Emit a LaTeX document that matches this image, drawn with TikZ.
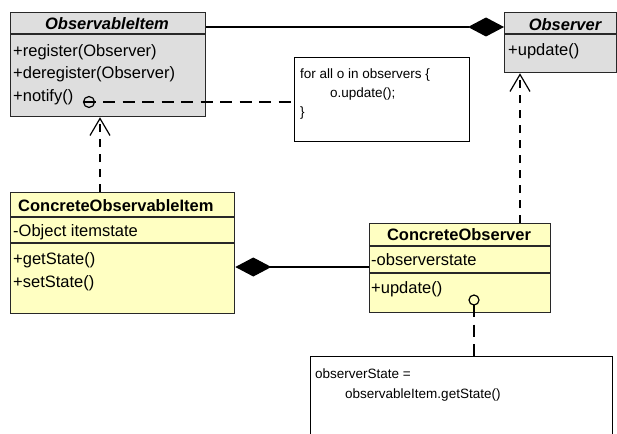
\documentclass[tikz,border=0pt]{standalone}
\usepackage{fontspec}
\setmainfont{Liberation Sans}
\usetikzlibrary{arrows.meta}

\definecolor{abstractfill}{RGB}{222,222,222}
\definecolor{concretefill}{RGB}{255,255,194}
\definecolor{linegray}{RGB}{40,40,40}

\begin{document}
\begin{tikzpicture}[x=1pt,y=-1pt,
  classbox/.style={draw=linegray, line width=1.3pt, rectangle, inner sep=0pt, anchor=north west},
  notebox/.style={draw=black, line width=1.1pt, fill=white, rectangle, inner sep=0pt, anchor=north west},
  member/.style={anchor=base west, inner sep=0pt, font=\fontsize{16.5}{20}\selectfont},
  classtitle/.style={anchor=base, inner sep=0pt, font=\fontsize{16.5}{20}\selectfont\bfseries},
  notetext/.style={anchor=base west, inner sep=0pt, font=\fontsize{13.5}{16}\selectfont},
  divider/.style={draw=linegray, line width=1.3pt},
  composition/.style={draw=black, line width=1.2pt, -{Diamond[length=36pt,width=19pt,fill=black]}},
  realization/.style={draw=black, line width=1.2pt, dash pattern=on 8pt off 7pt,
    -{Straight Barb[length=17pt,width=20pt,line width=1.2pt]}},
  attachment/.style={draw=black, line width=1.2pt, dash pattern=on 12pt off 7.5pt},
  port/.style={draw=black, line width=1.2pt},
]
\useasboundingbox (0,0) rectangle (617,433);
\clip (0,0) rectangle (617,433);

% class boxes
\node[classbox, fill=abstractfill, minimum width=195pt, minimum height=104pt] (obs) at (10,12) {};
\node[classbox, fill=abstractfill, minimum width=112pt, minimum height=60pt] (observer) at (504,12) {};
\node[classbox, fill=concretefill, minimum width=224pt, minimum height=121pt] (coi) at (10,192) {};
\node[classbox, fill=concretefill, minimum width=181pt, minimum height=89pt] (co) at (369,223) {};

% note boxes
\node[notebox, minimum width=175pt, minimum height=84pt] (n1) at (294,57) {};
\node[notebox, minimum width=302pt, minimum height=100pt] (n2) at (310,356) {};

% compartment dividers
\draw[divider] ([yshift=-22pt]obs.north west) -- ([yshift=-22pt]obs.north east);
\draw[divider] ([yshift=-22pt]observer.north west) -- ([yshift=-22pt]observer.north east);
\draw[divider] ([yshift=-25pt]coi.north west) -- ([yshift=-25pt]coi.north east);
\draw[divider] ([yshift=-51pt]coi.north west) -- ([yshift=-51pt]coi.north east);
\draw[divider] ([yshift=-23pt]co.north west) -- ([yshift=-23pt]co.north east);
\draw[divider] ([yshift=-50pt]co.north west) -- ([yshift=-50pt]co.north east);

% ObservableItem
\node[classtitle, font=\fontsize{16.5}{20}\selectfont\bfseries\itshape] (obsT) at (107,30) {ObservableItem};
\node[member] (obsM1) at (13,57) {+register(Observer)};
\node[member] (obsM2) at (13,79) {+deregister(Observer)};
\node[member] (obsM3) at (13,101) {+notify()};

% Observer
\node[classtitle, font=\fontsize{16.5}{20}\selectfont\bfseries\itshape] (observerT) at (565,31) {Observer};
\node[member] (observerM1) at (508,56) {+update()};

% ConcreteObservableItem
\node[member, font=\fontsize{16.5}{20}\selectfont\bfseries] (coiT) at (18,211) {ConcreteObservableItem};
\node[member] (coiA1) at (13,236) {-Object itemstate};
\node[member] (coiM1) at (13,264) {+getState()};
\node[member] (coiM2) at (13,287) {+setState()};

% ConcreteObserver
\node[classtitle] (coT) at (459,240) {ConcreteObserver};
\node[member] (coA1) at (371,265) {-observerstate};
\node[member] (coM1) at (371,293) {+update()};

% note texts
\node[notetext] (n1L1) at (300,78) {for all o in observers \{};
\node[notetext] (n1L2) at (330,97) {o.update();};
\node[notetext] (n1L3) at (300,116) {\}};
\node[notetext] (n2L1) at (315,378) {observerState =};
\node[notetext] (n2L2) at (345,398) {observableItem.getState()};

% associations
\draw[composition] ([yshift=-15pt]obs.north east) -- ([yshift=-15pt]observer.north west);
\draw[composition] ([yshift=-44pt]co.north west) -- ([yshift=-75pt]coi.north east);

% realizations
\draw[realization] ([xshift=90pt]coi.north west) -- ([xshift=90pt]obs.south west);
\draw[realization] ([xshift=151pt]co.north west) -- ([xshift=16pt]observer.south west);

% note attachments
\coordinate (notifyport) at (89,102);
\draw[port] (notifyport) circle[radius=5.5pt];
\draw[attachment] ([xshift=-5.5pt]notifyport) -- (n1.west |- notifyport);

\coordinate (updateport) at (474,300);
\draw[port] (updateport) circle[radius=5pt];
\draw[attachment] ([yshift=-5pt]updateport) -- (n2.north -| updateport);
\end{tikzpicture}
\end{document}
